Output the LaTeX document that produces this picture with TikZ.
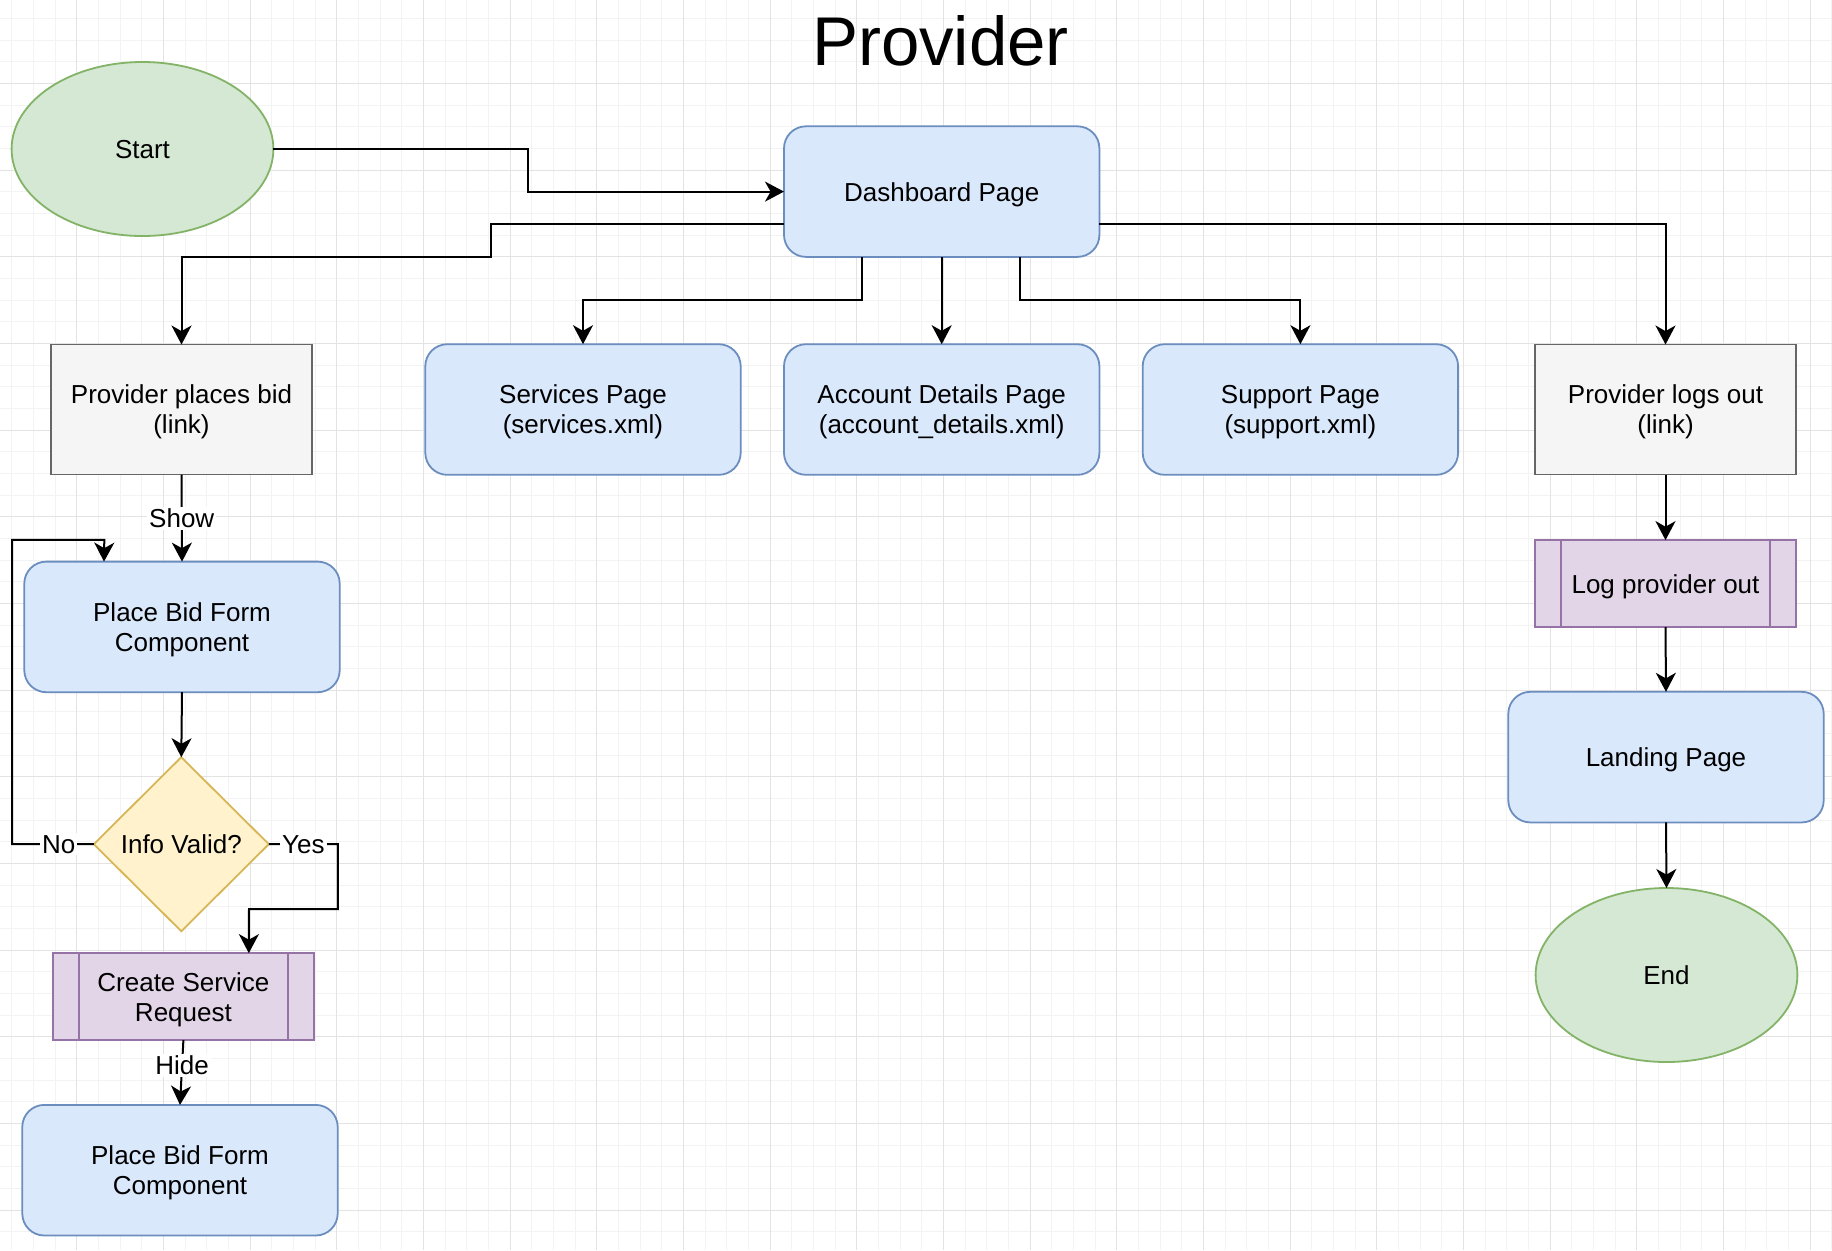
\documentclass[tikz,border=0pt]{standalone}
\usepackage{fontspec}
\setmainfont{Liberation Sans}
\usetikzlibrary{arrows.meta,shapes.geometric}

\definecolor{greenfill}{HTML}{D5E8D4}
\definecolor{greenline}{HTML}{82B366}
\definecolor{bluefill}{HTML}{DAE8FC}
\definecolor{blueline}{HTML}{6C8EBF}
\definecolor{grayfill}{HTML}{F5F5F5}
\definecolor{grayline}{HTML}{666666}
\definecolor{purplefill}{HTML}{E1D5E7}
\definecolor{purpleline}{HTML}{9673A6}
\definecolor{yellowfill}{HTML}{FFF2CC}
\definecolor{yellowline}{HTML}{D6B656}
\definecolor{gridminor}{HTML}{F3F3F3}
\definecolor{gridmajor}{HTML}{E3E3E3}

\tikzset{
  base/.style={font=\fontsize{13}{15}\selectfont, align=center, text depth=0pt, line width=0.9pt, outer sep=0pt, inner sep=2pt},
  page/.style={base, draw=blueline, fill=bluefill, rounded corners=11pt, minimum width=157.7pt, minimum height=65.3pt},
  link/.style={base, draw=grayline, fill=grayfill, minimum width=130.8pt, minimum height=65pt},
  proc/.style={base, draw=purpleline, fill=purplefill, minimum width=130.8pt, minimum height=43.5pt,
    path picture={\draw[purpleline, line width=0.9pt]
      ([xshift=13.1pt]path picture bounding box.north west) -- ([xshift=13.1pt]path picture bounding box.south west)
      ([xshift=-13.1pt]path picture bounding box.north east) -- ([xshift=-13.1pt]path picture bounding box.south east);}},
  terminal/.style={base, ellipse, draw=greenline, fill=greenfill, minimum width=130.9pt, minimum height=87pt},
  decision/.style={base, diamond, draw=yellowline, fill=yellowfill, minimum width=87.5pt, minimum height=87pt, inner sep=0pt},
  flow/.style={line width=1pt, -{Stealth[length=9.5pt,width=10pt,inset=2.8pt]}},
  lbl/.style={font=\fontsize{13}{15}\selectfont, fill=white, inner sep=1pt}
}

\begin{document}
\begin{tikzpicture}[x=0.5pt, y=-0.5pt]
            \fill[white] (0,0) rectangle (1832,1250);
            \useasboundingbox (0,0) rectangle (1832,1250);
            \foreach \i in {1,...,85} \draw[gridminor, line width=0.5pt] ({-10+21.667*\i},0) -- ({-10+21.667*\i},1250);
            \foreach \j in {1,...,57} \draw[gridminor, line width=0.5pt] (0,{-3.3+21.667*\j}) -- (1832,{-3.3+21.667*\j});
            \foreach \i in {1,...,21} \draw[gridmajor, line width=0.5pt] ({-10+86.667*\i},0) -- ({-10+86.667*\i},1250);
            \foreach \j in {1,...,14} \draw[gridmajor, line width=0.5pt] (0,{-3.3+86.667*\j}) -- (1832,{-3.3+86.667*\j});

            \node[font=\fontsize{34.5}{40}\selectfont] (title) at (940.5,40.8) {Provider};

            \node[terminal] (start) at (142.5,149) {Start};
            \node[page] (dash) at (941.7,191.6) {Dashboard Page};
            \node[link] (ppb) at (181.5,409.5) {Provider places bid\\(link)};
            \node[page] (services) at (583,409.5) {Services Page\\(services.xml)};
            \node[page] (account) at (941.7,409.5) {Account Details Page\\(account\_details.xml)};
            \node[page] (support) at (1300.4,409.5) {Support Page\\(support.xml)};
            \node[link] (plo) at (1665.5,409.5) {Provider logs out\\(link)};
            \node[proc] (lpo) at (1665.5,583.6) {Log provider out};
            \node[page] (landing) at (1666,757.1) {Landing Page};
            \node[terminal] (end) at (1666.5,975) {End};
            \node[page] (form1) at (182,626.9) {Place Bid Form\\Component};
            \node[decision] (valid) at (181.3,844.2) {Info Valid?};
            \node[proc] (csr) at (183.4,996.6) {Create Service\\Request};
            \node[page] (form2) at (180,1170.2) {Place Bid Form\\Component};

            \draw[flow] (start.east) -- ++(254.6,0) |- (dash.west);
            \draw[flow] ([yshift=-16.4pt]dash.west) -- ++(-293.3,0) -- ++(0,32.7) -| (ppb.north);
            \draw[flow] ([xshift=-39.7pt]dash.south) -- ++(0,43.3) -| (services.north);
            \draw[flow] (dash.south) -- (account.north);
            \draw[flow] ([xshift=39.2pt]dash.south) -- ++(0,43.3) -| (support.north);
            \draw[flow] ([yshift=-16.4pt]dash.east) -| (plo.north);
            \draw[flow] (ppb.south) -- node[lbl]{Show} (form1.north);
            \draw[flow] (form1.south) -- (valid.north);
            \draw[flow] (valid.west) -- node[lbl, pos=0.43]{No} ++(-81.8,0) |- ++(92.3,-304.4) -- ([xshift=-39pt]form1.north);
            \draw[flow] (valid.east) -- node[lbl]{Yes} ++(69,0) |- ++(-88.8,64.8) -- ([xshift=32.7pt]csr.north);
            \draw[flow] (csr.south) -- node[lbl, pos=0.39]{Hide} (form2.north);
            \draw[flow] (plo.south) -- (lpo.north);
            \draw[flow] (lpo.south) -- (landing.north);
            \draw[flow] (landing.south) -- (end.north);
        \end{tikzpicture}
\end{document}
